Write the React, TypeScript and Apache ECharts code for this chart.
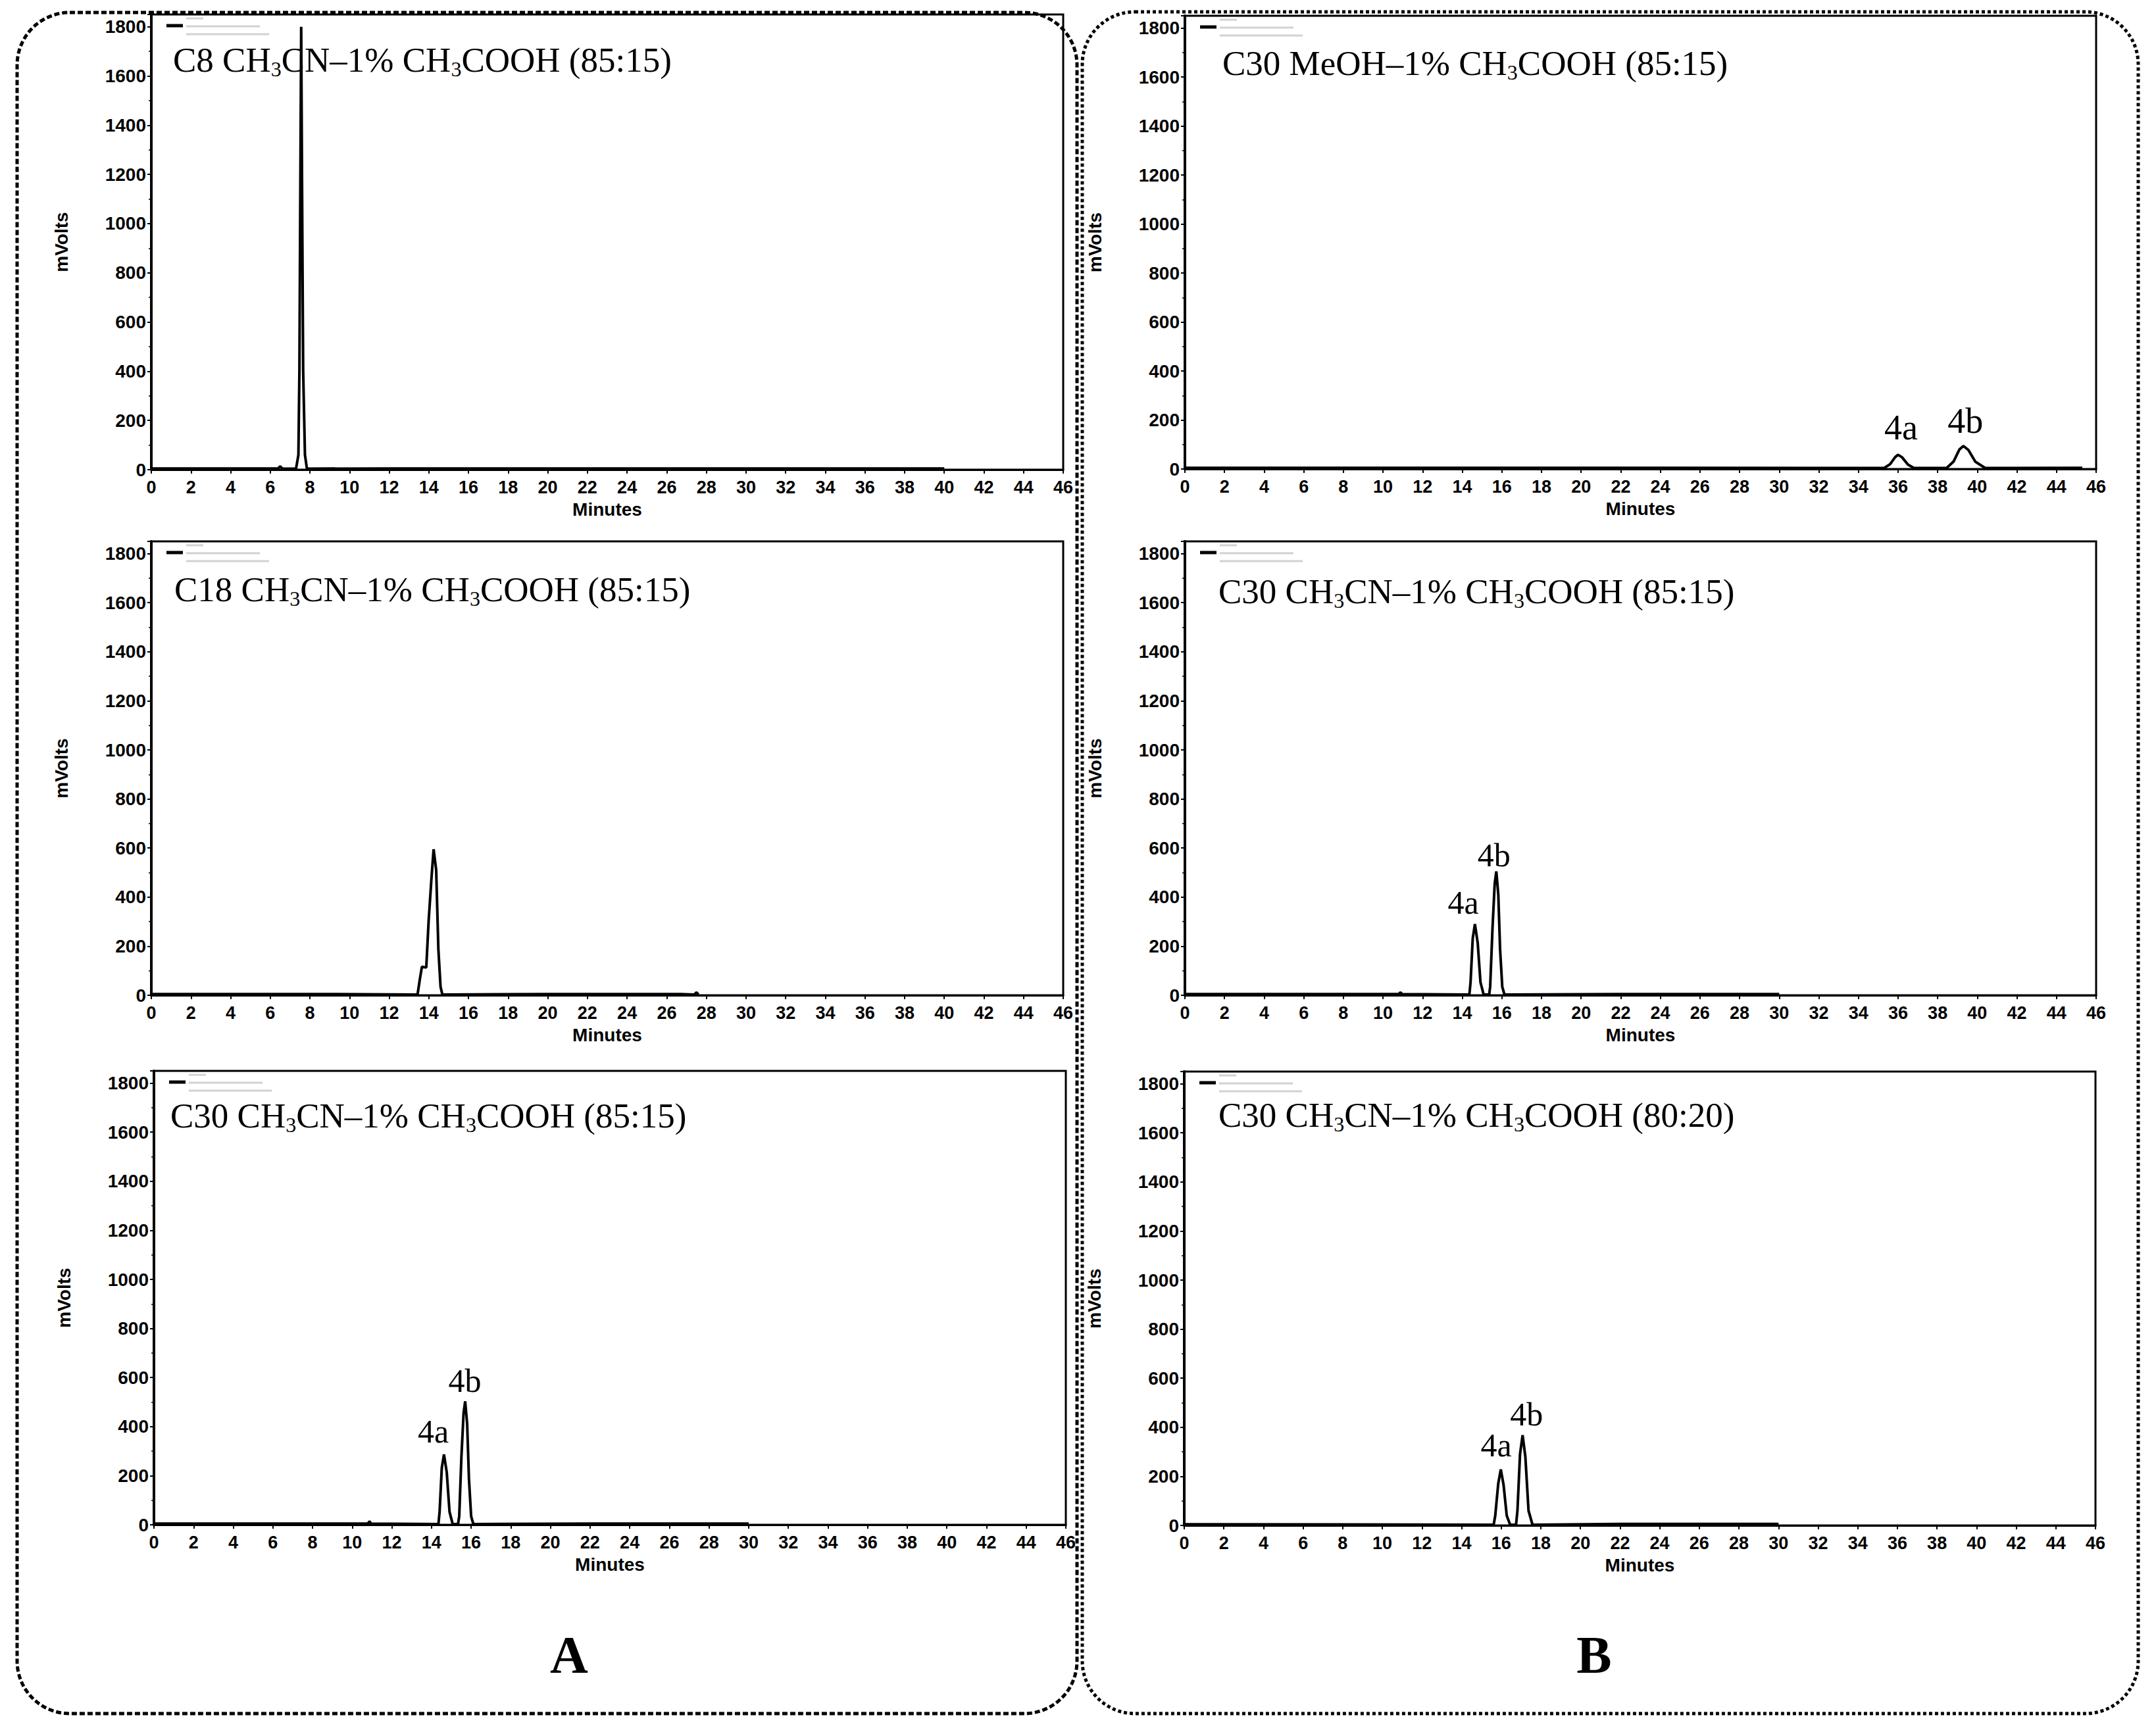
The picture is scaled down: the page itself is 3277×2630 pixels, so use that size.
import { useEffect, useRef } from 'react';
import * as echarts from 'echarts';

const CHART_W = 3277;
const CHART_H = 2630;

const SANS = '"Liberation Sans", Arial, sans-serif';
const SERIF = '"Liberation Serif", "Times New Roman", serif';

// axes (minutes / mVolts)
const X_MIN = 0;
const X_MAX = 46;
const X_STEP = 2;
const Y_MIN = 0;
const Y_TOP = 1850;
const Y_STEP = 200;
const X_NAME = 'Minutes';
const Y_NAME = 'mVolts';

// Panel A1: C8 CH3CN–1% CH3COOH (85:15)
const a1Title = 'C8 CH_3CN–1% CH_3COOH (85:15)';
const a1Time = [0, 3, 6.4, 6.5, 6.6, 7.3, 7.42, 7.47, 7.52, 7.56, 7.6, 7.66, 7.75, 7.85, 12, 20, 30, 40];
const a1Signal = [5, 5, 5, 14, 5, 4, 60, 400, 1200, 1800, 1200, 400, 60, 4, 5, 5, 5, 5];
const a1PeakNames: string[] = [];
const a1PeakTime: number[] = [];
const a1PeakValue: number[] = [];

// Panel A2: C18 CH3CN–1% CH3COOH (85:15)
const a2Title = 'C18 CH_3CN–1% CH_3COOH (85:15)';
const a2Time = [0, 8, 13.43, 13.54, 13.65, 13.87, 13.99, 14.13, 14.24, 14.37, 14.48, 14.59, 14.68, 20, 26.7, 27.4, 27.5, 27.6];
const a2Signal = [5, 5, 3, 62, 116, 113, 304, 474, 595, 510, 188, 35, 3, 5, 5, 3, 12, 3];
const a2PeakNames: string[] = [];
const a2PeakTime: number[] = [];
const a2PeakValue: number[] = [];

// Panel A3: C30 CH3CN–1% CH3COOH (85:15)
const a3Title = 'C30 CH_3CN–1% CH_3COOH (85:15)';
const a3Time = [0, 10.8, 10.87, 10.95, 14.35, 14.41, 14.52, 14.63, 14.77, 14.91, 15.07, 15.34, 15.4, 15.51, 15.62, 15.7, 15.8, 15.89, 16.0, 16.11, 22, 30];
const a3Signal = [5, 5, 14, 5, 3, 53, 232, 287, 214, 53, 3, 3, 35, 277, 456, 503, 411, 188, 35, 3, 5, 5];
const a3PeakNames = ['4a', '4b'];
const a3PeakTime = [14.09, 15.68];
const a3PeakValue = [382, 588];

// Panel B1: C30 MeOH–1% CH3COOH (85:15)
const b1Title = 'C30 MeOH–1% CH_3COOH (85:15)';
const b1Time = [0, 20, 35.3, 35.6, 35.85, 36.0, 36.2, 36.5, 36.8, 38.45, 38.8, 39.1, 39.3, 39.55, 39.9, 40.4, 45.3];
const b1Signal = [5, 5, 4, 20, 48, 58, 48, 18, 4, 4, 30, 80, 94, 78, 30, 4, 5];
const b1PeakNames = ['4a', '4b'];
const b1PeakTime = [36.15, 39.4];
const b1PeakValue = [169, 196];

// Panel B2: C30 CH3CN–1% CH3COOH (85:15)
const b2Title = 'C30 CH_3CN–1% CH_3COOH (85:15)';
const b2Time = [0, 10.8, 10.88, 10.96, 14.36, 14.42, 14.53, 14.64, 14.78, 14.92, 15.08, 15.36, 15.41, 15.53, 15.64, 15.72, 15.82, 15.91, 16.02, 16.13, 22, 30];
const b2Signal = [5, 5, 12, 5, 3, 53, 232, 290, 214, 53, 3, 3, 35, 277, 456, 505, 411, 188, 35, 3, 5, 5];
const b2PeakNames = ['4a', '4b'];
const b2PeakTime = [14.05, 15.6];
const b2PeakValue = [377, 570];

// Panel B3: C30 CH3CN–1% CH3COOH (80:20)
const b3Title = 'C30 CH_3CN–1% CH_3COOH (80:20)';
const b3Time = [0, 15.62, 15.7, 15.85, 15.98, 16.12, 16.28, 16.45, 16.75, 16.82, 16.95, 17.08, 17.22, 17.38, 17.58, 22, 30];
const b3Signal = [5, 3, 40, 170, 228, 165, 40, 3, 3, 60, 290, 368, 280, 60, 3, 6, 6];
const b3PeakNames = ['4a', '4b'];
const b3PeakTime = [15.75, 17.28];
const b3PeakValue = [327, 453];

const groupLabels = ['A', 'B'];

// layout only (pixels)
const layout = [
  { left: 230, top: 22, width: 1386, height: 692, titleX: 263, titleBase: 107, labelSize: 50 },
  { left: 230, top: 823, width: 1386, height: 690, titleX: 265, titleBase: 912, labelSize: 50 },
  { left: 234, top: 1628, width: 1386, height: 690, titleX: 259, titleBase: 1712, labelSize: 50 },
  { left: 1801, top: 24, width: 1385, height: 689, titleX: 1858, titleBase: 112, labelSize: 54 },
  { left: 1801, top: 823, width: 1385, height: 690, titleX: 1852, titleBase: 915, labelSize: 50 },
  { left: 1800, top: 1629, width: 1385, height: 690, titleX: 1852, titleBase: 1711, labelSize: 50 },
];

const panels = [
  { title: a1Title, time: a1Time, signal: a1Signal, names: a1PeakNames, pt: a1PeakTime, pv: a1PeakValue },
  { title: a2Title, time: a2Time, signal: a2Signal, names: a2PeakNames, pt: a2PeakTime, pv: a2PeakValue },
  { title: a3Title, time: a3Time, signal: a3Signal, names: a3PeakNames, pt: a3PeakTime, pv: a3PeakValue },
  { title: b1Title, time: b1Time, signal: b1Signal, names: b1PeakNames, pt: b1PeakTime, pv: b1PeakValue },
  { title: b2Title, time: b2Time, signal: b2Signal, names: b2PeakNames, pt: b2PeakTime, pv: b2PeakValue },
  { title: b3Title, time: b3Time, signal: b3Signal, names: b3PeakNames, pt: b3PeakTime, pv: b3PeakValue },
];

function toRich(t: string): string {
  const parts = t.split('_3');
  return parts.map((p, i) => (i === 0 ? '' : '{s|3}') + (p ? `{m|${p}}` : '')).join('');
}

function buildOption() {
  const grid = layout.map((l) => ({
    left: l.left,
    top: l.top,
    width: l.width,
    height: l.height,
    show: true,
    borderColor: '#000',
    borderWidth: 3,
    backgroundColor: 'transparent',
  }));

  const xAxis = layout.map((_, i) => ({
    gridIndex: i,
    type: 'value',
    min: X_MIN,
    max: X_MAX,
    interval: X_STEP,
    name: X_NAME,
    nameLocation: 'middle',
    nameGap: 46,
    nameTextStyle: { fontFamily: SANS, fontWeight: 'bold', fontSize: 28, color: '#000' },
    axisLine: { show: true, onZero: false, lineStyle: { color: '#000', width: 3 } },
    axisTick: { show: true, length: 6, lineStyle: { color: '#000', width: 2 } },
    axisLabel: { fontFamily: SANS, fontWeight: 'bold', fontSize: 27, color: '#000', margin: 13 },
    splitLine: { show: false },
  }));

  const yAxis = layout.map((_, i) => ({
    gridIndex: i,
    type: 'value',
    min: Y_MIN,
    max: Y_TOP,
    interval: Y_STEP,
    name: Y_NAME,
    nameLocation: 'middle',
    nameGap: 123,
    nameTextStyle: { fontFamily: SANS, fontWeight: 'bold', fontSize: 28, color: '#000' },
    axisLine: { show: true, onZero: false, lineStyle: { color: '#000', width: 4 } },
    axisTick: { show: true, length: 6, lineStyle: { color: '#000', width: 2 } },
    minorTick: { show: true, splitNumber: 2, length: 4, lineStyle: { color: '#000', width: 1.5 } },
    axisLabel: {
      fontFamily: SANS,
      fontWeight: 'bold',
      fontSize: 28,
      color: '#000',
      margin: 8,
      formatter: (v: number) => (v % Y_STEP === 0 ? String(v) : ''),
    },
    splitLine: { show: false },
  }));

  const series = panels.map((p, i) => ({
    type: 'line',
    xAxisIndex: i,
    yAxisIndex: i,
    data: p.time.map((t, k) => [t, p.signal[k]]),
    showSymbol: false,
    symbol: 'none',
    silent: true,
    lineStyle: { color: '#000', width: 4 },
    z: 3,
    markPoint: p.names.length
      ? {
          symbol: 'circle',
          symbolSize: 1,
          silent: true,
          itemStyle: { color: 'rgba(0,0,0,0)' },
          label: {
            show: true,
            position: 'inside',
            formatter: '{b}',
            fontFamily: SERIF,
            fontSize: layout[i].labelSize,
            color: '#000',
          },
          data: p.names.map((n, k) => ({ name: n, coord: [p.pt[k], p.pv[k]] })),
        }
      : undefined,
  }));

  const graphic: any[] = [];
  // dashed rounded group boxes
  graphic.push({
    type: 'rect',
    shape: { x: 26, y: 19, width: 1611, height: 2586, r: 80 },
    style: { fill: 'none', stroke: '#000', lineWidth: 5, lineDash: [8, 4] },
    z: 10,
    silent: true,
  });
  graphic.push({
    type: 'rect',
    shape: { x: 1645, y: 18, width: 1605, height: 2587, r: 80 },
    style: { fill: 'none', stroke: '#000', lineWidth: 5, lineDash: [5, 4] },
    z: 10,
    silent: true,
  });
  // group letters
  [865, 2423].forEach((x, i) => {
    graphic.push({
      type: 'text',
      x,
      y: 2516,
      silent: true,
      style: {
        text: groupLabels[i],
        fontFamily: SERIF,
        fontWeight: 'bold',
        fontSize: 80,
        fill: '#000',
        align: 'center',
        verticalAlign: 'middle',
        textAlign: 'center',
        textVerticalAlign: 'middle',
      },
    });
  });
  // panel titles and legend glyphs
  panels.forEach((p, i) => {
    const l = layout[i];
    graphic.push({
      type: 'text',
      x: l.titleX,
      y: l.titleBase + 14,
      silent: true,
      z: 20,
      style: {
        text: toRich(p.title),
        align: 'left',
        verticalAlign: 'bottom',
        textAlign: 'left',
        textVerticalAlign: 'bottom',
        fill: '#000',
        rich: {
          m: { fontFamily: SERIF, fontSize: 53, lineHeight: 56, padding: [0, 0, 4, 0], verticalAlign: 'bottom', color: '#000' },
          s: { fontFamily: SERIF, fontSize: 32, lineHeight: 32, verticalAlign: 'bottom', color: '#000' },
        },
      },
    });
    graphic.push({
      type: 'line',
      silent: true,
      z: 20,
      shape: { x1: l.left + 23, y1: l.top + 17, x2: l.left + 48, y2: l.top + 17 },
      style: { stroke: '#000', lineWidth: 5 },
    });
    [
      [0, 6, 26],
      [0, 18, 112],
      [0, 30, 126],
    ].forEach(([dx, dy, w]) => {
      graphic.push({
        type: 'rect',
        silent: true,
        z: 20,
        shape: { x: l.left + 53 + dx, y: l.top + dy - 1.5, width: w, height: 3 },
        style: { fill: '#d2d2d2' },
      });
    });
  });

  return {
    animation: false,
    backgroundColor: '#fff',
    grid,
    xAxis,
    yAxis,
    series,
    graphic,
  };
}

export default function App() {
  const ref = useRef<HTMLDivElement>(null);
  useEffect(() => {
    document.body.style.margin = '0';
    const chart = echarts.init(ref.current as HTMLDivElement, undefined, { renderer: 'svg', width: CHART_W, height: CHART_H });
    chart.setOption(buildOption() as any);
    return () => chart.dispose();
  }, []);
  return <div ref={ref} style={{ position: 'absolute', left: 0, top: 0, width: CHART_W, height: CHART_H, background: '#fff' }} />;
}
